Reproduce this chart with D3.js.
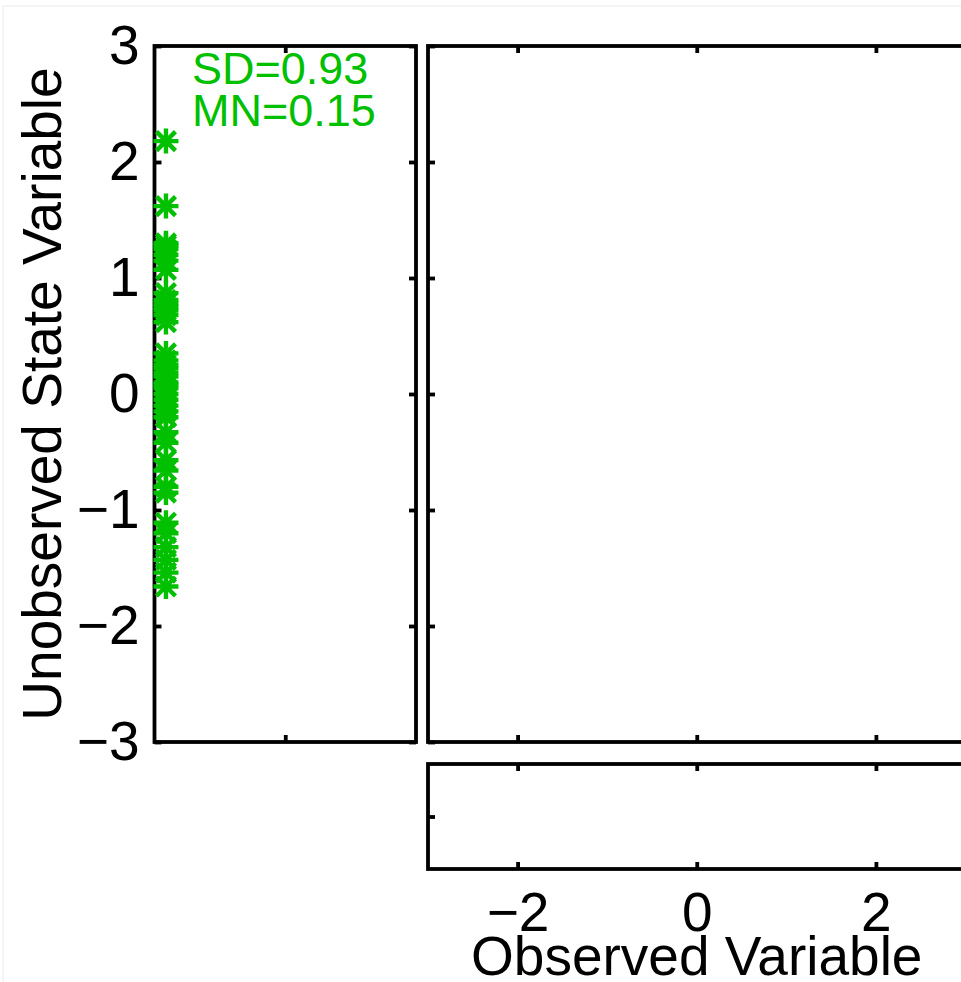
<!DOCTYPE html>
<html>
<head>
<meta charset="utf-8">
<script src="https://cdn.jsdelivr.net/npm/d3@7"></script>
<style>
html,body{margin:0;padding:0;background:#fff;overflow:hidden;}
svg{display:block;font-family:"Liberation Sans",Arial,Helvetica,sans-serif;}
</style>
</head>
<body>
<svg id="chart" width="961" height="982"></svg>
<script>
// ---- data ----
const stateValues = [2.18, 1.62, 1.30, 1.28, 1.25, 1.20, 1.15, 1.07, 0.87, 0.81, 0.78, 0.75, 0.72, 0.68, 0.62,
  0.35, 0.29, 0.25, 0.22, 0.18, 0.15, 0.10, 0.08, 0.05, 0.00, -0.05, -0.10, -0.15, -0.20,
  -0.33, -0.42, -0.57, -0.66, -0.80, -0.85, -1.11, -1.20, -1.32, -1.43, -1.54, -1.66];
const stateX = 0.04;
const yTicks = [-3, -2, -1, 0, 1, 2, 3];
const xTicks = [-2, 0, 2];
const leftXTicks = [0.5];
const bottomYTicks = [0.5];
const statText = ["SD=0.93", "MN=0.15"];
const xLabel = "Observed Variable";
const yLabel = "Unobserved State Variable";

const green = "#00c000";
const svg = d3.select("#chart");

// faint outer border
svg.append("rect").attr("x", 3).attr("y", 6).attr("width", 970).attr("height", 990)
  .attr("fill", "none").attr("stroke", "#ececec").attr("stroke-width", 1);

// scales
const yLeft = d3.scaleLinear().domain([-3, 3]).range([742, 46]);
const xLeft = d3.scaleLinear().domain([0, 1]).range([154.5, 416]);
const xMain = d3.scaleLinear().domain([-3, 3]).range([428, 965.5]);
const yBot = d3.scaleLinear().domain([0, 1]).range([869, 764]);

const LW = 3.8;
function styleAxis(g, labels) {
  g.select(".domain").remove();
  g.selectAll(".tick line").attr("stroke", "#000").attr("stroke-width", LW);
  g.selectAll(".tick text").attr("fill", "#000").style("font-size", labels ? "55px" : "0px")
    .style("font-family", '"Liberation Sans",Arial,Helvetica,sans-serif');
}
const TS = -7;
const minusFmt = d => (d < 0 ? "\u2212" + Math.abs(d) : String(d));

// ---- left panel ----
const gl = svg.append("g");
gl.append("g").attr("transform", `translate(${xLeft.range()[0]},0)`)
  .call(d3.axisLeft(yLeft).tickValues(yTicks).tickSize(TS).tickPadding(15).tickFormat(minusFmt))
  .call(g => styleAxis(g, true));
gl.append("g").attr("transform", `translate(${xLeft.range()[1]},0)`)
  .call(d3.axisRight(yLeft).tickValues(yTicks).tickSize(TS).tickFormat(""))
  .call(g => styleAxis(g, false));
gl.append("g").attr("transform", `translate(0,${yLeft.range()[0]})`)
  .call(d3.axisBottom(xLeft).tickValues(leftXTicks).tickSize(TS).tickFormat(""))
  .call(g => styleAxis(g, false));
gl.append("g").attr("transform", `translate(0,${yLeft.range()[1]})`)
  .call(d3.axisTop(xLeft).tickValues(leftXTicks).tickSize(TS).tickFormat(""))
  .call(g => styleAxis(g, false));
gl.append("rect").attr("x", xLeft.range()[0]).attr("y", yLeft.range()[1])
  .attr("width", xLeft.range()[1] - xLeft.range()[0]).attr("height", yLeft.range()[0] - yLeft.range()[1])
  .attr("fill", "none").attr("stroke", "#000").attr("stroke-width", LW);

// stars
const r = 12.5, rd = r * 0.76;
const starPath = `M${-r},0L${r},0M0,${-r}L0,${r}M${-rd},${-rd}L${rd},${rd}M${-rd},${rd}L${rd},${-rd}`;
gl.append("g").selectAll("path").data(stateValues).join("path")
  .attr("transform", d => `translate(${xLeft(stateX) + 1},${yLeft(d)})`)
  .attr("d", starPath).attr("fill", "none").attr("stroke", green).attr("stroke-width", 4.4);

gl.selectAll("text.stat").data(statText).join("text").attr("class", "stat")
  .attr("x", 192).attr("y", (d, i) => 84 + i * 42)
  .attr("fill", green).style("font-size", "45px").text(d => d);

// ---- main right panel ----
const gm = svg.append("g");
gm.append("g").attr("transform", `translate(${xMain.range()[0]},0)`)
  .call(d3.axisLeft(yLeft).tickValues(yTicks).tickSize(TS).tickFormat(""))
  .call(g => styleAxis(g, false));
gm.append("g").attr("transform", `translate(0,${yLeft.range()[0]})`)
  .call(d3.axisBottom(xMain).tickValues(xTicks).tickSize(TS).tickFormat(""))
  .call(g => styleAxis(g, false));
gm.append("g").attr("transform", `translate(0,${yLeft.range()[1]})`)
  .call(d3.axisTop(xMain).tickValues(xTicks).tickSize(TS).tickFormat(""))
  .call(g => styleAxis(g, false));
gm.append("rect").attr("x", xMain.range()[0]).attr("y", yLeft.range()[1])
  .attr("width", xMain.range()[1] - xMain.range()[0]).attr("height", yLeft.range()[0] - yLeft.range()[1])
  .attr("fill", "none").attr("stroke", "#000").attr("stroke-width", LW);

// ---- bottom panel ----
const gb = svg.append("g");
gb.append("g").attr("transform", `translate(0,${yBot.range()[0]})`)
  .call(d3.axisBottom(xMain).tickValues(xTicks).tickSize(TS).tickPadding(23).tickFormat(minusFmt))
  .call(g => styleAxis(g, true));
gb.append("g").attr("transform", `translate(0,${yBot.range()[1]})`)
  .call(d3.axisTop(xMain).tickValues(xTicks).tickSize(TS).tickFormat(""))
  .call(g => styleAxis(g, false));
gb.append("g").attr("transform", `translate(${xMain.range()[0]},0)`)
  .call(d3.axisLeft(yBot).tickValues(bottomYTicks).tickSize(TS).tickFormat(""))
  .call(g => styleAxis(g, false));
gb.append("rect").attr("x", xMain.range()[0]).attr("y", yBot.range()[1])
  .attr("width", xMain.range()[1] - xMain.range()[0]).attr("height", yBot.range()[0] - yBot.range()[1])
  .attr("fill", "none").attr("stroke", "#000").attr("stroke-width", LW);

// axis labels
svg.append("text").attr("x", xMain(0)).attr("y", 975).attr("text-anchor", "middle")
  .attr("fill", "#000").style("font-size", "55px").text(xLabel);
svg.append("text").attr("transform", `translate(61,${yLeft(0)}) rotate(-90)`).attr("text-anchor", "middle")
  .attr("fill", "#000").style("font-size", "55px").text(yLabel);
</script>
</body>
</html>
